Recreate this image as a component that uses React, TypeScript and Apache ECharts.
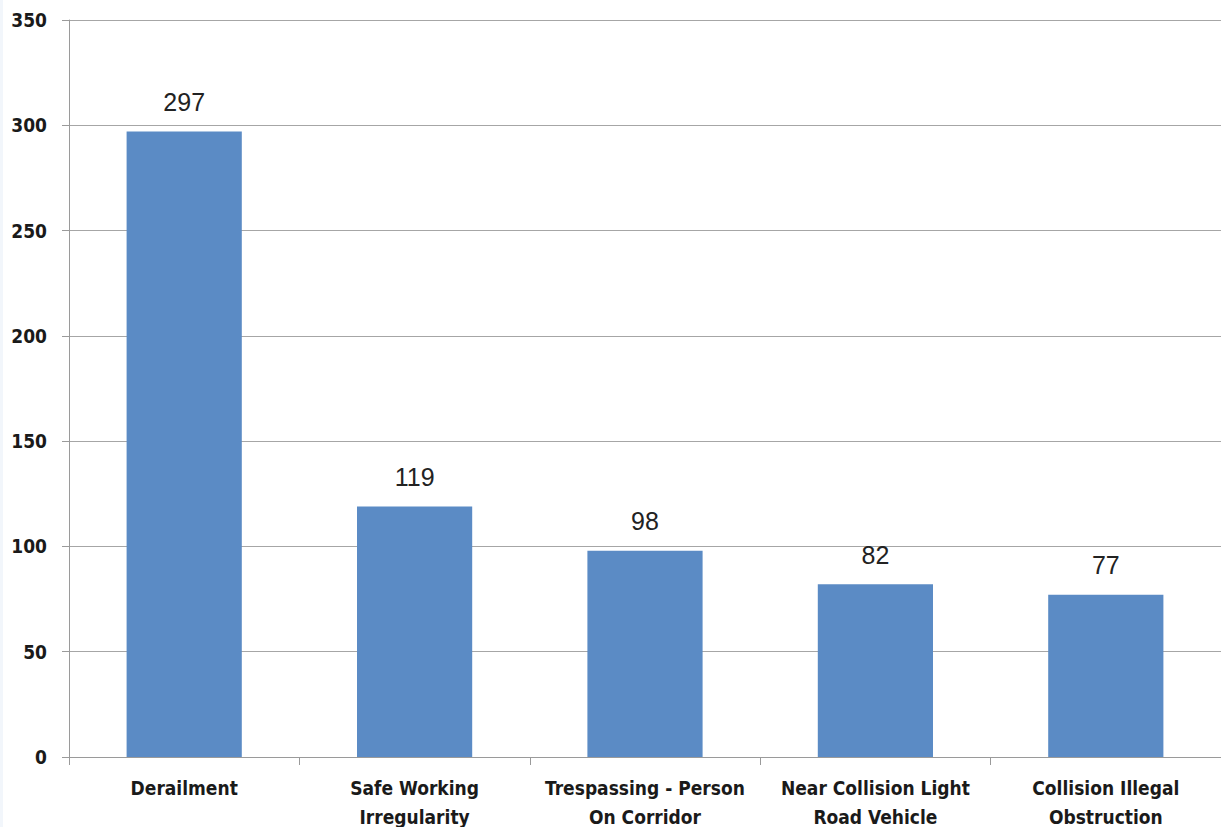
import React, { useEffect, useRef } from "react";
import * as echarts from "echarts";

const categories = [
  "Derailment",
  "Safe Working\nIrregularity",
  "Trespassing - Person\nOn Corridor",
  "Near Collision Light\nRoad Vehicle",
  "Collision Illegal\nObstruction",
];
const values = [297, 119, 98, 82, 77];
const yTicks = { min: 0, max: 350, interval: 50 };

export default function App() {
  const ref = useRef<HTMLDivElement>(null);
  useEffect(() => {
    document.body.style.margin = "0";
    const chart = echarts.init(ref.current!, null, { renderer: "svg", width: 1221, height: 827 });
    chart.setOption({
      animation: false,
      backgroundColor: "#ffffff",
      grid: { left: 69, right: 0, top: 20, bottom: 70, containLabel: false, outerBoundsMode: "none" },
      graphic: [
        { type: "rect", left: 0, top: 0, shape: { width: 3, height: 827 }, style: { fill: "#f2f6fb" }, silent: true },
      ],
      xAxis: {
        type: "category",
        data: categories,
        axisLine: { lineStyle: { color: "#9a9a9a", width: 1 } },
        axisTick: { show: true, length: 8, alignWithLabel: false, lineStyle: { color: "#9a9a9a" } },
        axisLabel: {
          interval: 0,
          margin: 16,
          color: "#1a1a1a",
          fontFamily: "DejaVu Sans Condensed",
          fontWeight: "bold",
          fontSize: 19,
          lineHeight: 29,
        },
      },
      yAxis: {
        type: "value",
        min: yTicks.min,
        max: yTicks.max,
        interval: yTicks.interval,
        axisLine: { show: true, lineStyle: { color: "#9a9a9a", width: 1 } },
        axisTick: { show: true, length: 7, lineStyle: { color: "#9a9a9a" } },
        splitLine: { show: true, lineStyle: { color: "#a6a6a6", width: 1 } },
        axisLabel: {
          margin: 22,
          color: "#1a1a1a",
          fontFamily: "DejaVu Sans Condensed",
          fontWeight: "bold",
          fontSize: 19,
        },
      },
      series: [
        {
          type: "bar",
          data: values,
          barWidth: "50%",
          itemStyle: { color: "#5b8bc5" },
          label: {
            show: true,
            position: "top",
            distance: 17,
            color: "#222222",
            fontFamily: "Liberation Sans",
            fontSize: 25,
          },
        },
      ],
    });
    return () => chart.dispose();
  }, []);
  return (
    <div
      ref={ref}
      style={{ position: "fixed", left: 0, top: 0, width: 1221, height: 827, overflow: "hidden" }}
    />
  );
}
